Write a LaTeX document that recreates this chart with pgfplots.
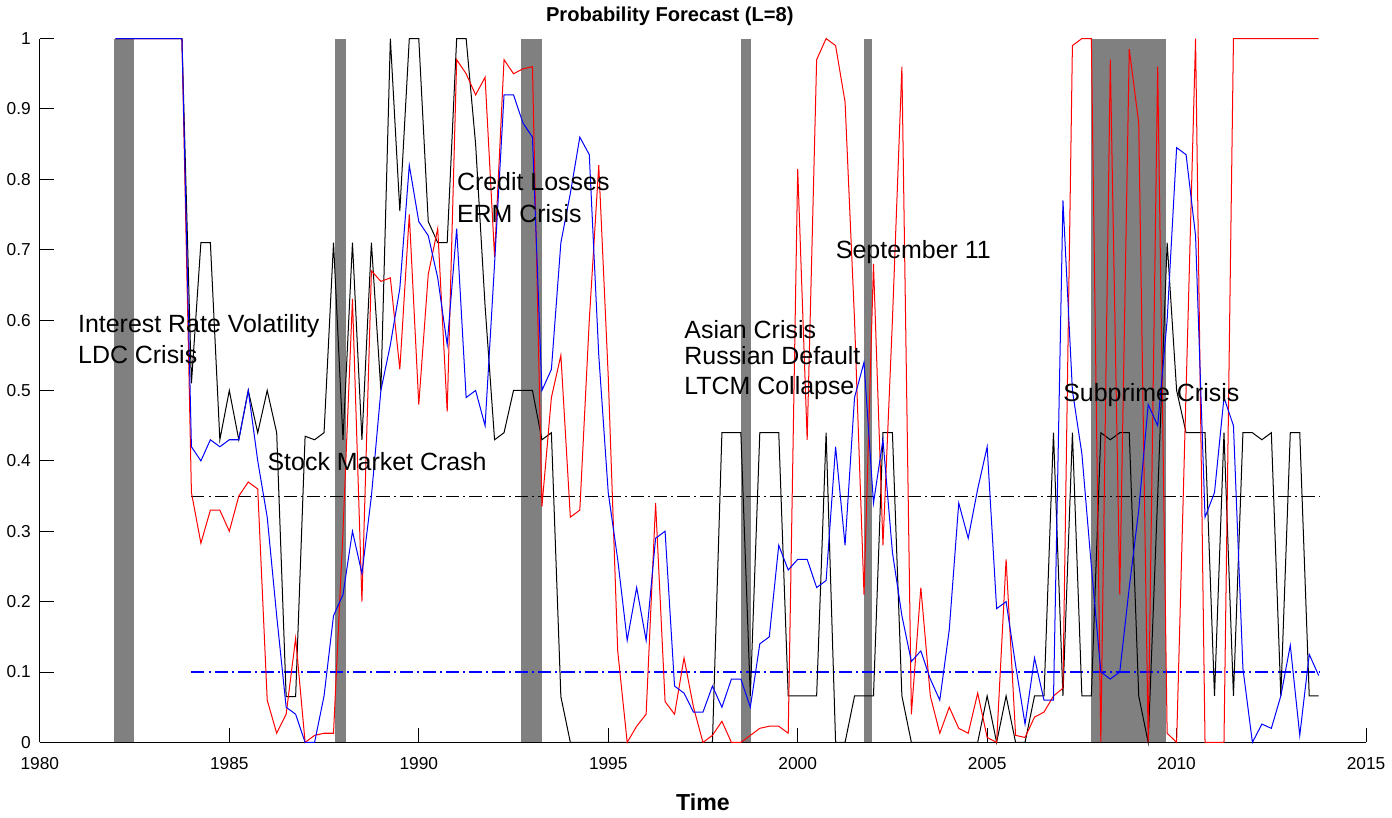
\documentclass[border=0pt]{standalone}
\usepackage{pgfplots}
\pgfplotsset{compat=1.18}
\usepackage{pgfplotstable}
\usepackage{fontspec}
\setmainfont{Liberation Sans}

\definecolor{shade}{RGB}{128,128,128}

% quarterly forecasts: t, black, blue, red
\pgfplotstableread{
t       k      b      r
1982.00 1      1      1
1982.25 1      1      1
1982.50 1      1      1
1982.75 1      1      1
1983.00 1      1      1
1983.25 1      1      1
1983.50 1      1      1
1983.75 1      1      1
1984.00 0.51   0.42   0.355
1984.25 0.71   0.40   0.283
1984.50 0.71   0.43   0.33
1984.75 0.43   0.42   0.33
1985.00 0.50   0.43   0.30
1985.25 0.43   0.43   0.35
1985.50 0.50   0.50   0.37
1985.75 0.44   0.40   0.36
1986.00 0.50   0.32   0.06
1986.25 0.44   0.18   0.013
1986.50 0.065  0.05   0.04
1986.75 0.065  0.04   0.148
1987.00 0.435  0      0
1987.25 0.43   0      0.01
1987.50 0.44   0.066  0.013
1987.75 0.71   0.18   0.013
1988.00 0.43   0.21   0.30
1988.25 0.71   0.30   0.63
1988.50 0.43   0.24   0.20
1988.75 0.71   0.35   0.67
1989.00 0.50   0.50   0.655
1989.25 1.00   0.565  0.66
1989.50 0.755  0.645  0.53
1989.75 1.00   0.82   0.75
1990.00 1.00   0.74   0.48
1990.25 0.74   0.72   0.665
1990.50 0.71   0.66   0.73
1990.75 0.71   0.565  0.47
1991.00 1.00   0.73   0.97
1991.25 1.00   0.49   0.95
1991.50 0.85   0.50   0.92
1991.75 0.62   0.45   0.945
1992.00 0.43   0.68   0.69
1992.25 0.44   0.92   0.97
1992.50 0.50   0.92   0.95
1992.75 0.50   0.88   0.957
1993.00 0.50   0.86   0.96
1993.25 0.43   0.50   0.335
1993.50 0.44   0.53   0.49
1993.75 0.065  0.71   0.55
1994.00 0      0.78   0.32
1994.25 0      0.86   0.33
1994.50 0      0.835  0.60
1994.75 0      0.55   0.82
1995.00 0      0.355  0.52
1995.25 0      0.26   0.13
1995.50 0      0.145  0
1995.75 0      0.22   0.023
1996.00 0      0.145  0.04
1996.25 0      0.29   0.34
1996.50 0      0.30   0.058
1996.75 0      0.08   0.04
1997.00 0      0.07   0.12
1997.25 0      0.043  0.05
1997.50 0      0.043  0
1997.75 0      0.08   0.01
1998.00 0.44   0.05   0.03
1998.25 0.44   0.09   0
1998.50 0.44   0.09   0
1998.75 0.066  0.05   0.01
1999.00 0.44   0.14   0.02
1999.25 0.44   0.15   0.023
1999.50 0.44   0.28   0.023
1999.75 0.066  0.245  0.013
2000.00 0.066  0.26   0.815
2000.25 0.066  0.26   0.43
2000.50 0.066  0.22   0.97
2000.75 0.44   0.23   1.0
2001.00 0      0.42   0.99
2001.25 0      0.28   0.91
2001.50 0.066  0.49   0.60
2001.75 0.066  0.54   0.21
2002.00 0.066  0.34   0.68
2002.25 0.44   0.43   0.28
2002.50 0.44   0.27   0.60
2002.75 0.066  0.18   0.96
2003.00 0      0.115  0.04
2003.25 0      0.13   0.22
2003.50 0      0.09   0.066
2003.75 0      0.06   0.013
2004.00 0      0.16   0.05
2004.25 0      0.34   0.02
2004.50 0      0.29   0.013
2004.75 0      0.36   0.07
2005.00 0.066  0.42   0.007
2005.25 0      0.19   0
2005.50 0.066  0.20   0.26
2005.75 0      0.11   0.01
2006.00 0      0.026  0.007
2006.25 0.066  0.12   0.036
2006.50 0.066  0.06   0.043
2006.75 0.44   0.06   0.066
2007.00 0.066  0.77   0.077
2007.25 0.44   0.50   0.99
2007.50 0.066  0.41   1.0
2007.75 0.066  0.25   1.0
2008.00 0.44   0.10   0
2008.25 0.43   0.09   0.97
2008.50 0.44   0.10   0.21
2008.75 0.44   0.22   0.985
2009.00 0.066  0.33   0.88
2009.25 0      0.48   0
2009.50 0.35   0.45   0.96
2009.75 0.71   0.60   0.013
2010.00 0.50   0.845  0
2010.25 0.44   0.835  0.5
2010.50 0.44   0.72   1.0
2010.75 0.44   0.32   0
2011.00 0.066  0.355  0
2011.25 0.44   0.49   0
2011.50 0.066  0.45   1.0
2011.75 0.44   0.105  1.0
2012.00 0.44   0      1.0
2012.25 0.43   0.026  1.0
2012.50 0.44   0.02   1.0
2012.75 0.066  0.066  1.0
2013.00 0.44   0.138  1.0
2013.25 0.44   0.01   1.0
2013.50 0.066  0.125  1.0
2013.75 0.066  0.095  1.0
}\fcst

\begin{document}
\begin{tikzpicture}
\begin{axis}[
    scale only axis,
    width=659.5pt, height=350pt,
    xmin=1980, xmax=2015, ymin=0, ymax=1,
    axis x line*=bottom, axis y line*=left,
    axis line style={-, line width=0.5pt},
    tick align=inside,
    major tick length=7pt,
    tick style={black, line width=0.5pt},
    xtick={1980,1985,...,2015},
    ytick={0,0.1,0.2,0.3,0.4,0.5,0.6,0.7,0.8,0.9,1},
    x tick label style={/pgf/number format/1000 sep={}, yshift=-4pt},
    y tick label style={xshift=-1pt},
    tick label style={font=\fontsize{8.6}{10}\selectfont},
    /pgf/number format/assume math mode=true,
    title={\textbf{Probability Forecast (L=8)}},
    title style={at={(0.475,1)}, anchor=south, font=\fontsize{10}{12}\selectfont, yshift=-3pt},
    xlabel={\textbf{Time}},
    xlabel style={font=\fontsize{11.5}{13}\selectfont, yshift=-5pt},
    clip=false,
]
% crisis periods
\addplot[fill=shade, draw=none] coordinates {(1981.96,0) (1981.96,1) (1982.49,1) (1982.49,0)} -- cycle;
\addplot[fill=shade, draw=none] coordinates {(1987.80,0) (1987.80,1) (1988.07,1) (1988.07,0)} -- cycle;
\addplot[fill=shade, draw=none] coordinates {(1992.69,0) (1992.69,1) (1993.24,1) (1993.24,0)} -- cycle;
\addplot[fill=shade, draw=none] coordinates {(1998.50,0) (1998.50,1) (1998.76,1) (1998.76,0)} -- cycle;
\addplot[fill=shade, draw=none] coordinates {(2001.74,0) (2001.74,1) (2001.97,1) (2001.97,0)} -- cycle;
\addplot[fill=shade, draw=none] coordinates {(2007.73,0) (2007.73,1) (2009.72,1) (2009.72,0)} -- cycle;

% thresholds
\addplot[draw=black, line width=0.5pt, dash pattern=on 6.5pt off 2pt on 1pt off 2pt] coordinates {(1984,0.35) (2013.75,0.35)};
\addplot[draw=blue, line width=0.55pt, dash pattern=on 6.5pt off 2pt on 1pt off 2pt] coordinates {(1984,0.1) (2013.75,0.1)};

% forecasts
\addplot[black, line width=0.5pt] table[x=t, y=k] {\fcst};
\addplot[red, line width=0.5pt] table[x=t, y=r] {\fcst};
\addplot[blue, line width=0.5pt] table[x=t, y=b] {\fcst};

% event labels
\begin{scope}[every node/.style={anchor=base west, inner sep=0pt, font=\fontsize{12.4}{14}\selectfont}]
\node at (axis cs:1981,0.583) {Interest Rate Volatility};
\node at (axis cs:1981,0.539) {LDC Crisis};
\node at (axis cs:1986,0.386) {Stock Market Crash};
\node at (axis cs:1991,0.784) {Credit Losses};
\node at (axis cs:1991,0.738) {ERM Crisis};
\node at (axis cs:1997,0.574) {Asian Crisis};
\node at (axis cs:1997,0.537) {Russian Default};
\node at (axis cs:1997,0.495) {LTCM Collapse};
\node at (axis cs:2001,0.687) {September 11};
\node at (axis cs:2007,0.484) {Subprime Crisis};
\end{scope}
\end{axis}
\end{tikzpicture}
\end{document}
